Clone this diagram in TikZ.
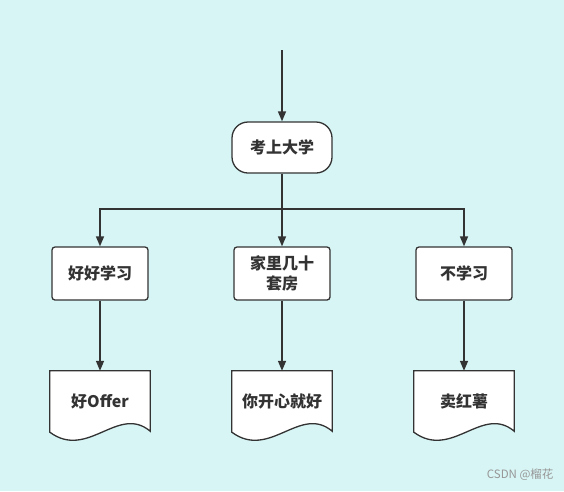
\documentclass[tikz,border=0pt]{standalone}
\usepackage{fontspec}
\setmainfont{Noto Sans CJK SC}
\usepackage{tikz}
\usepackage{xcolor}
\usetikzlibrary{arrows.meta, positioning, calc, backgrounds}
\definecolor{cBack}{RGB}{216,245,245}
\definecolor{cLine}{RGB}{51,51,51}
\definecolor{cMark}{RGB}{150,150,150}
\tikzset{
	terminal/.style ={rectangle, rounded corners=16pt, minimum width=100pt, minimum height=51pt, align=center, draw=cLine, line width=1.3pt, fill=white},
	process/.style  ={rectangle, rounded corners=3pt, minimum width=96pt, minimum height=53pt, align=center, draw=cLine, line width=1.3pt, fill=white},
	docbox/.style   ={rectangle, minimum width=100pt, minimum height=61pt, align=center, inner sep=0pt},
	flow/.style     ={-{Triangle[length=10pt, width=8pt]}, draw=cLine, line width=1.5pt},
}

\begin{document}
\begin{tikzpicture}[x=1pt, y=-1pt, font=\fontsize{16}{20}\selectfont\bfseries, text=cLine]
			\useasboundingbox (0,0) rectangle (564,491);
			\coordinate (start) at (282,50);
			\node[terminal] (exam) at (282,147.5) {考上大学};
			\coordinate (split) at (282,209);
			\node[process] (study) at (100,273.5) {好好学习};
			\node[process] (house) at (282,273.5) {家里几十\\套房};
			\node[process] (nostudy) at (464,273.5) {不学习};
			% document shapes
			\node[docbox] (offer) at (100,401.5) {好Offer};
			\node[docbox] (happy) at (282,401.5) {你开心就好};
			\node[docbox] (potato) at (464,401.5) {卖红薯};
			\begin{scope}[on background layer]
				\fill[cBack] (0,0) rectangle (564,491);
				\foreach \d in {offer, happy, potato}
					\draw[cLine, line width=1.3pt, fill=white] (\d.north west) -- (\d.north east) -- ($(\d.south east)+(0,-1)$)
						.. controls ($(\d.south east)+(-32,-28)$) and ($(\d.south west)+(38,28)$) .. (\d.south west) -- cycle;
			\end{scope}
			\draw[flow] (start) -- (exam);
			\draw[flow] (exam) -- (split) -| (study);
			\draw[flow] (split) -| (nostudy);
			\draw[flow] (exam) -- (house);
			\draw[flow] (study) -- (offer);
			\draw[flow] (house) -- (happy);
			\draw[flow] (nostudy) -- (potato);
			\node[font=\fontsize{11.5}{13}\selectfont, text=cMark, anchor=east] (mark) at (557,475) {CSDN @榴花};
		\end{tikzpicture}
\end{document}
